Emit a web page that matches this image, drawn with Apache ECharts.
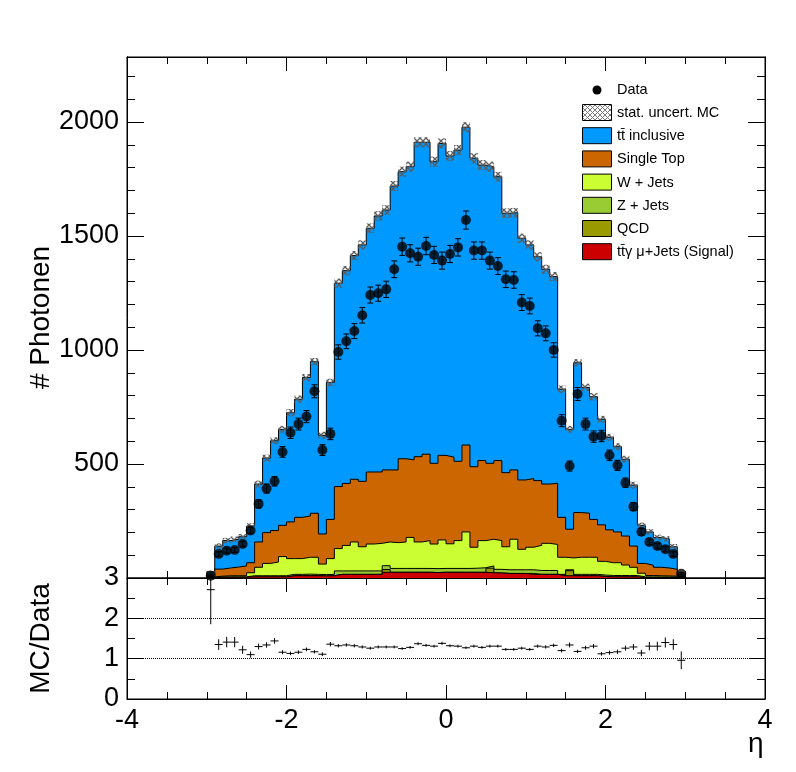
<!DOCTYPE html>
<html lang="de">
<head>
    <meta charset="UTF-8">
    <title>Photonen eta</title>
    <script src="https://cdn.jsdelivr.net/npm/echarts@6/dist/echarts.min.js"></script>
    <style>
        html, body {margin: 0; padding: 0; background: #fff;}
        #main {width: 796px; height: 772px;}
    </style>
</head>
<body>
<div id="main"></div>
<script>
    // 60 bins in eta, width 0.1, from -3.0 to 3.0
    var binEdges = []
    for (var i = 0; i <= 60; i++) binEdges.push(Math.round(-30 + i) / 10)

    // MC yields per bin (stack order bottom -> top)
    var signal = [1, 3, 3, 3, 3, 5, 5, 5, 5, 5, 10, 10, 10, 10, 9, 10, 16, 16, 16, 16, 16, 16,
        25, 25, 25, 25, 25, 25, 24, 25, 25, 25, 25, 25, 25, 23, 22, 20, 20, 20, 16, 16, 16, 16,
        10, 10, 10, 10, 10, 7, 5, 5, 5, 5, 2, 2, 2, 2, 2, 1]
    var qcd = [0, 0, 0, 0, 0, 0, 0, 0, 0, 0, 0, 0, 0, 0, 0, 0, 0, 0, 0, 0, 0, 0,
        12, 0, 0, 0, 0, 0, 0, 0, 0, 0, 0, 0, 0, 20, 0, 0, 0, 0, 4, 0, 0, 0,
        0, 22, 0, 0, 0, 0, 0, 0, 0, 0, 0, 0, 0, 0, 0, 0]
    var zJets = [1, 2, 2, 2, 2, 5, 5, 5, 5, 5, 6, 6, 7, 6, 6, 6, 15, 15, 15, 15, 15, 15,
        17, 17, 17, 17, 17, 17, 17, 17, 17, 17, 17, 18, 20, 10, 16, 16, 16, 16, 16, 17, 17, 17,
        6, 4, 6, 6, 6, 6, 6, 6, 6, 6, 3, 3, 3, 3, 3, 1]
    var wJets = [3, 3, 5, 5, 5, 13, 37, 54, 60, 84, 69, 69, 74, 75, 46, 69, 98, 112, 127, 106, 118, 121,
        104, 113, 116, 136, 116, 122, 108, 125, 108, 122, 160, 92, 119, 117, 126, 101, 134, 90, 99, 110, 119, 114,
        75, 52, 75, 75, 75, 60, 56, 56, 46, 36, 16, 6, 5, 4, 3, 2]
    var singleTop = [8, 31, 34, 38, 43, 44, 111, 135, 138, 137, 161, 181, 181, 193, 132, 172, 272, 272, 275, 287, 316, 313,
        316, 319, 365, 340, 374, 379, 354, 371, 380, 348, 381, 353, 351, 333, 351, 325, 304, 304, 301, 284, 260, 268,
        175, 126, 196, 193, 166, 160, 144, 135, 127, 93, 43, 45, 37, 35, 30, 5]
    var ttInclusive = [14, 101, 120, 122, 128, 161, 254, 327, 394, 421, 479, 518, 607, 665, 433, 601, 892, 933, 981, 1037, 1069, 1123,
        1140, 1245, 1259, 1286, 1379, 1368, 1323, 1368, 1321, 1365, 1394, 1353, 1296, 1301, 1245, 1138, 1128, 1060, 1025, 982, 942, 907,
        562, 438, 657, 552, 538, 463, 406, 374, 337, 267, 167, 146, 131, 128, 99, 9]
    // stat. uncertainty of the MC sum (half height of hatched box)
    var mcStat = [5, 12, 12, 12, 12, 12, 15, 15, 15, 15, 16, 16, 16, 16, 15, 16, 20, 20, 20, 20, 21, 21,
        21, 22, 22, 22, 22, 22, 22, 22, 22, 22, 22, 22, 22, 22, 21, 21, 21, 20, 20, 20, 20, 20,
        16, 15, 16, 16, 16, 15, 15, 15, 15, 15, 12, 12, 12, 12, 12, 5]

    var data = [10, 105, 120, 123, 149, 208, 325, 392, 424, 553, 637, 675, 708, 819, 561, 632, 991, 1038, 1083, 1152, 1241, 1249,
        1266, 1354, 1453, 1424, 1409, 1456, 1417, 1392, 1421, 1450, 1570, 1436, 1436, 1392, 1368, 1310, 1307, 1208, 1193, 1095, 1073, 1000,
        690, 491, 807, 675, 620, 623, 538, 494, 418, 313, 203, 158, 140, 126, 105, 19]

    // MC/Data
    var ratio = [2.71, 1.35, 1.41, 1.41, 1.22, 1.10, 1.30, 1.34, 1.44, 1.16, 1.13, 1.16, 1.23, 1.17, 1.11, 1.36, 1.32, 1.34, 1.32, 1.29,
        1.26, 1.29, 1.29, 1.29, 1.25, 1.28, 1.37, 1.33, 1.31, 1.38, 1.32, 1.31, 1.27, 1.31, 1.28, 1.31, 1.31, 1.23, 1.23, 1.26,
        1.23, 1.31, 1.29, 1.33, 1.20, 1.34, 1.18, 1.27, 1.31, 1.12, 1.15, 1.17, 1.26, 1.29, 1.14, 1.31, 1.31, 1.40, 1.35, 0.96]

    var yTicks = [500, 1000, 1500, 2000]
    var ratioTicks = [0, 1, 2, 3]
    var xTicks = [-4, -2, 0, 2, 4]

    var FONT = "'Liberation Sans', Arial, sans-serif"
    var nBins = binEdges.length - 1

    // grey cross hatch like ROOT fill style 3013
    function makeHatch(size, color, width) {
        var cv = document.createElement('canvas')
        cv.width = size
        cv.height = size
        var g = cv.getContext('2d')
        g.strokeStyle = color
        g.lineWidth = width
        g.beginPath()
        g.moveTo(0, 0); g.lineTo(size, size)
        g.moveTo(size, 0); g.lineTo(0, size)
        g.stroke()
        return {image: cv, repeat: 'repeat'}
    }
    var hatchFill = makeHatch(6, '#5c5c5c', 1.3)
    var hatchLegend = makeHatch(5, '#7a7a7a', 1)

    var layers = [
        {name: 'tt\u0304\u03b3 \u03bc+Jets (Signal)', values: signal, color: '#cc0000'},
        {name: 'QCD', values: qcd, color: '#999900'},
        {name: 'Z + Jets', values: zJets, color: '#99cc33'},
        {name: 'W + Jets', values: wJets, color: '#ccff33'},
        {name: 'Single Top', values: singleTop, color: '#cc6600'},
        {name: 'tt\u0304 inclusive', values: ttInclusive, color: '#0099ff'}
    ]

    // like THStack: each layer is drawn as its cumulative sum, biggest first
    var series = []
    var mcSum = new Array(nBins).fill(0)
    layers.forEach(function (l, k) {
        var pts = [[binEdges[0], 0]]
        for (var i = 0; i < nBins; i++) {
            mcSum[i] += l.values[i]
            pts.push([binEdges[i], mcSum[i]])
        }
        pts.push([binEdges[nBins], mcSum[nBins - 1]])
        pts.push([binEdges[nBins], 0])
        series.push({
            name: l.name,
            type: 'line',
            xAxisIndex: 0,
            yAxisIndex: 0,
            step: 'end',
            symbol: 'none',
            data: pts,
            z: 10 - k,
            silent: true,
            lineStyle: {color: '#000', width: 1},
            areaStyle: {color: l.color, opacity: 1, origin: 'start'}
        })
    })

    var statBoxes = []
    var points = []
    var ratioPts = []
    for (var i = 0; i < nBins; i++) {
        var c = (binEdges[i] + binEdges[i + 1]) / 2
        statBoxes.push([binEdges[i], binEdges[i + 1], mcSum[i] - mcStat[i], mcSum[i] + mcStat[i]])
        // poisson error on data
        points.push([c, data[i], Math.sqrt(data[i])])
        ratioPts.push([binEdges[i], binEdges[i + 1], ratio[i], ratio[i] / Math.sqrt(data[i])])
    }

    series.push({
        type: 'custom',
        xAxisIndex: 0,
        yAxisIndex: 0,
        z: 20,
        silent: true,
        clip: true,
        data: statBoxes,
        renderItem: function (params, api) {
            var a = api.coord([api.value(0), api.value(2)])
            var b = api.coord([api.value(1), api.value(3)])
            return {
                type: 'rect',
                shape: {x: a[0], y: b[1], width: b[0] - a[0], height: a[1] - b[1]},
                style: {fill: hatchFill}
            }
        }
    })
    series.push({
        type: 'custom',
        xAxisIndex: 0,
        yAxisIndex: 0,
        z: 30,
        silent: true,
        clip: true,
        data: points,
        renderItem: function (params, api) {
            var x = api.value(0), y = api.value(1), e = api.value(2)
            var lo = api.coord([x, y - e]), hi = api.coord([x, y + e])
            var s = {stroke: '#000', lineWidth: 1}
            return {
                type: 'group', children: [
                    {type: 'line', shape: {x1: lo[0], y1: lo[1], x2: hi[0], y2: hi[1]}, style: s},
                    {type: 'line', shape: {x1: lo[0] - 3, y1: lo[1], x2: lo[0] + 3, y2: lo[1]}, style: s},
                    {type: 'line', shape: {x1: hi[0] - 3, y1: hi[1], x2: hi[0] + 3, y2: hi[1]}, style: s}
                ]
            }
        }
    })
    series.push({
        name: 'Data',
        type: 'scatter',
        xAxisIndex: 0,
        yAxisIndex: 0,
        z: 31,
        silent: true,
        symbol: 'circle',
        symbolSize: 10,
        itemStyle: {color: '#000'},
        data: points.map(function (p) { return [p[0], p[1]] })
    })
    series.push({
        type: 'custom',
        xAxisIndex: 2,
        yAxisIndex: 4,
        z: 30,
        silent: true,
        clip: true,
        data: ratioPts,
        renderItem: function (params, api) {
            var x0 = api.value(0), x1 = api.value(1), r = api.value(2), e = api.value(3)
            var l = api.coord([x0, r]), rr = api.coord([x1, r])
            var xm = (l[0] + rr[0]) / 2
            var lo = api.coord([x0, r - e]), hi = api.coord([x0, r + e])
            var s = {stroke: '#000', lineWidth: 1}
            return {
                type: 'group', children: [
                    {type: 'line', shape: {x1: l[0], y1: l[1], x2: rr[0], y2: rr[1]}, style: s},
                    {type: 'line', shape: {x1: xm, y1: lo[1], x2: xm, y2: hi[1]}, style: s}
                ]
            }
        }
    })

    function xAxis(grid, pos, labels) {
        return {
            type: 'value', gridIndex: grid, position: pos,
            min: xTicks[0], max: xTicks[xTicks.length - 1], interval: xTicks[1] - xTicks[0],
            axisLine: {show: true, onZero: false, lineStyle: {color: '#000', width: 1}},
            axisTick: {inside: true, length: 14, lineStyle: {color: '#000'}},
            minorTick: {show: true, splitNumber: 4, length: 7, lineStyle: {color: '#000'}},
            axisLabel: {show: labels, margin: 8, fontSize: 27, color: '#000', fontFamily: FONT},
            splitLine: {show: false}
        }
    }

    function yAxis(grid, pos, min, max, step, len, labels, extra) {
        var ax = {
            type: 'value', gridIndex: grid, position: pos, min: min, max: max, interval: step,
            axisLine: {show: true, onZero: false, lineStyle: {color: '#000', width: 1}},
            axisTick: {inside: true, length: len, lineStyle: {color: '#000'}},
            axisLabel: {show: labels, margin: 8, fontSize: 27, color: '#000', fontFamily: FONT},
            splitLine: {show: false}
        }
        for (var k in extra) ax[k] = extra[k]
        return ax
    }

    var mainMax = 2285
    var legendTop = 104
    var legendStep = 23.2
    var legendFont = 14.5
    var graphic = [
        {type: 'circle', shape: {cx: 597, cy: 90, r: 4.5}, style: {fill: '#000'}},
        {type: 'text', x: 617, y: 90, style: {text: 'Data', fontSize: legendFont, fontFamily: FONT, fill: '#000', verticalAlign: 'middle'}},
        {type: 'rect', shape: {x: 582.5, y: legendTop + 0.5, width: 29, height: 16}, style: {fill: '#fff', stroke: 'none'}},
        {type: 'rect', shape: {x: 582.5, y: legendTop + 0.5, width: 29, height: 16}, style: {fill: hatchLegend, stroke: '#000', lineWidth: 1}},
        {type: 'text', x: 617, y: legendTop + 8.5, style: {text: 'stat. uncert. MC', fontSize: legendFont, fontFamily: FONT, fill: '#000', verticalAlign: 'middle'}},
        {type: 'text', left: 748, top: 730, style: {text: '\u03b7', fontSize: 28, fontFamily: FONT, fill: '#000'}}
    ]
    layers.slice().reverse().forEach(function (l, k) {
        var top = legendTop + legendStep * (k + 1)
        graphic.push({type: 'rect', shape: {x: 582.5, y: top + 0.5, width: 29, height: 16},
            style: {fill: l.color, stroke: '#000', lineWidth: 1}})
        graphic.push({type: 'text', x: 617, y: top + 9,
            style: {text: l.name, fontSize: legendFont, fontFamily: FONT, fill: '#000', verticalAlign: 'middle'}})
    })

    var option = {
        animation: false,
        backgroundColor: '#fff',
        grid: [
            {left: 127, top: 57, width: 638, height: 521, show: true, borderColor: '#000', borderWidth: 1, backgroundColor: 'transparent'},
            {left: 127, top: 578, width: 638, height: 121, show: true, borderColor: '#000', borderWidth: 1, backgroundColor: 'transparent'}
        ],
        xAxis: [
            xAxis(0, 'bottom', false),
            xAxis(0, 'top', false),
            xAxis(1, 'bottom', true),
            xAxis(1, 'top', false)
        ],
        yAxis: [
            yAxis(0, 'left', 0, mainMax, yTicks[1] - yTicks[0], 17, true, {
                name: '# Photonen', nameLocation: 'middle', nameGap: 72, nameMoveOverlap: false,
                nameTextStyle: {fontSize: 28, fontFamily: FONT, color: '#000'},
                axisLabel: {
                    show: true, margin: 8, fontSize: 27, color: '#000', fontFamily: FONT, showMaxLabel: false,
                    formatter: function (v) { return yTicks.indexOf(v) >= 0 ? String(v) : '' }
                }
            }),
            yAxis(0, 'left', 0, mainMax, 100, 8, false, {}),
            yAxis(0, 'right', 0, mainMax, yTicks[1] - yTicks[0], 17, false, {}),
            yAxis(0, 'right', 0, mainMax, 100, 8, false, {}),
            yAxis(1, 'left', ratioTicks[0], ratioTicks[ratioTicks.length - 1], 1, 16, true, {
                name: 'MC/Data', nameLocation: 'middle', nameGap: 72, nameMoveOverlap: false,
                nameTextStyle: {fontSize: 28, fontFamily: FONT, color: '#000'},
                minorTick: {show: true, splitNumber: 2, length: 8, lineStyle: {color: '#000'}},
                splitLine: {show: true, lineStyle: {type: 'dotted', color: '#000', width: 1}}
            }),
            yAxis(1, 'right', ratioTicks[0], ratioTicks[ratioTicks.length - 1], 1, 16, false, {
                minorTick: {show: true, splitNumber: 2, length: 8, lineStyle: {color: '#000'}}
            })
        ],
        graphic: graphic,
        series: series
    }

    var myChart = echarts.init(document.getElementById('main'))
    myChart.setOption(option)
</script>
</body>
</html>
